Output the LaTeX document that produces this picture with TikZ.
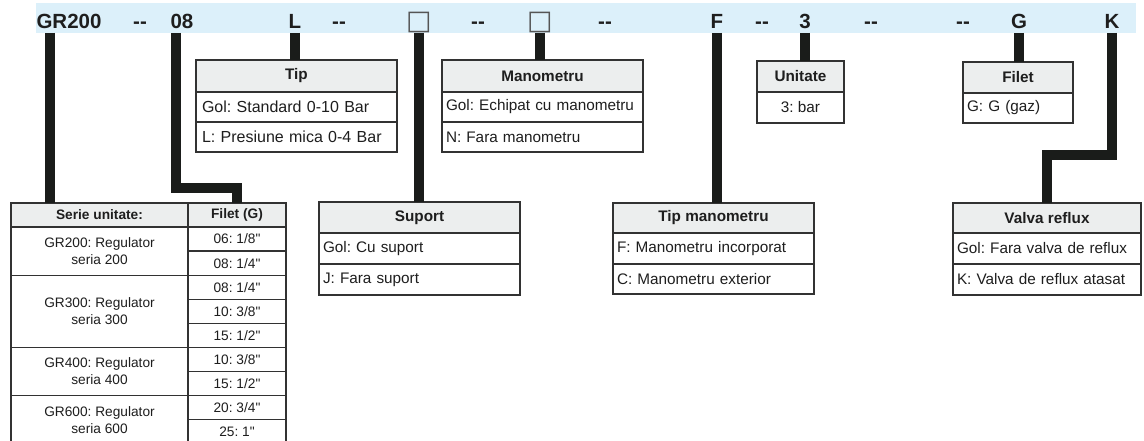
\documentclass[tikz,border=0pt]{standalone}
\usepackage{fontspec}
\setmainfont{Liberation Sans}[Ligatures=TeXOff]
\newfontfamily\symfont{DejaVu Sans}
\usepackage{tikz}
\usetikzlibrary{positioning}
\definecolor{barblue}{RGB}{220,240,250}
\definecolor{hdrgray}{RGB}{236,238,238}
\definecolor{linegray}{RGB}{50,50,50}
\definecolor{leadblack}{RGB}{26,28,26}
\definecolor{txt}{RGB}{30,30,30}
\definecolor{sqgray}{RGB}{85,85,85}
\frenchspacing

\begin{document}
\begin{tikzpicture}[x=1pt, y=-1pt,
    codechar/.style={anchor=base, inner sep=0, text=txt, font=\fontsize{20.5}{20}\selectfont\bfseries},
    sqchar/.style={anchor=base, inner sep=0, text=sqgray, font=\symfont\fontsize{27}{27}\selectfont},
    leadline/.style={draw=leadblack, line width=10pt, line join=miter},
    opthead/.style={rectangle, draw=linegray, line width=1.3pt, fill=hdrgray, anchor=north west, inner sep=0, outer sep=0, minimum height=31pt, text=txt, font=\fontsize{15.3}{16}\selectfont\bfseries},
    optrow/.style={rectangle, draw=linegray, line width=1.3pt, fill=white, inner xsep=4pt, inner ysep=0, outer sep=0, minimum height=30pt, align=left, text=txt, font=\fontsize{15.3}{16}\selectfont},
    shead/.style={opthead, minimum height=24pt, font=\fontsize{13.7}{17}\selectfont\bfseries},
    scell/.style={optrow, minimum height=24.1pt, inner xsep=0, align=center, font=\fontsize{13.7}{17}\selectfont}
]
\useasboundingbox (0,0) rectangle (1144,441);

% BARA DE COD
\node[fill=barblue, anchor=north west, minimum width=1100pt, minimum height=30pt, inner sep=0, outer sep=0] (bar) at (36,3) {};
\node[codechar] (tGR) at (69,29) {GR200};
\node[codechar] (tD1) at (140,29) {-{}-};
\node[codechar] (t08) at (182,29) {08};
\node[codechar] (tL) at (295,29) {L};
\node[codechar] (tD2) at (339,29) {-{}-};
\node[sqchar] (tS) at (419,30) {□};
\node[codechar] (tD3) at (478,29) {-{}-};
\node[sqchar] (tM) at (540,30) {□};
\node[codechar] (tD4) at (605,29) {-{}-};
\node[codechar] (tF) at (717,29) {F};
\node[codechar] (tD5) at (762,29) {-{}-};
\node[codechar] (t3) at (805,29) {3};
\node[codechar] (tD6) at (871,29) {-{}-};
\node[codechar] (tD7) at (963,29) {-{}-};
\node[codechar] (tG) at (1019,29) {G};
\node[codechar] (tK) at (1112,29) {K};
\coordinate (aGR) at (50,33);
\coordinate (a08) at (176,33);

% SERIE UNITATE / FILET (G)
\node[shead, minimum width=177pt] (serhd) at (11,203) {Serie unitate:};
\node[shead, minimum width=98pt, right=0pt of serhd] (fghd) {Filet (G)};
\node[scell, minimum width=177pt, minimum height=48.2pt, below=0pt of serhd] (s200) {GR200: Regulator\\seria 200};
\node[scell, minimum width=177pt, minimum height=72.3pt, below=0pt of s200] (s300) {GR300: Regulator\\seria 300};
\node[scell, minimum width=177pt, minimum height=48.2pt, below=0pt of s300] (s400) {GR400: Regulator\\seria 400};
\node[scell, minimum width=177pt, minimum height=48.2pt, below=0pt of s400] (s600) {GR600: Regulator\\seria 600};
\node[scell, minimum width=98pt, below=0pt of fghd] (f1) {06: 1/8"};
\node[scell, minimum width=98pt, below=0pt of f1] (f2) {08: 1/4"};
\node[scell, minimum width=98pt, below=0pt of f2] (f3) {08: 1/4"};
\node[scell, minimum width=98pt, below=0pt of f3] (f4) {10: 3/8"};
\node[scell, minimum width=98pt, below=0pt of f4] (f5) {15: 1/2"};
\node[scell, minimum width=98pt, below=0pt of f5] (f6) {10: 3/8"};
\node[scell, minimum width=98pt, below=0pt of f6] (f7) {15: 1/2"};
\node[scell, minimum width=98pt, below=0pt of f7] (f8) {20: 3/4"};
\node[scell, minimum width=98pt, below=0pt of f8] (f9) {25: 1"};

% TIP
\node[opthead, minimum width=201pt, minimum height=32pt] (tiphd) at (196,60) {Tip};
\node[optrow, text width=189pt, inner xsep=6pt, font=\fontsize{16}{16}\selectfont, below=0pt of tiphd] (tip1) {Gol: Standard 0-10 Bar};
\node[optrow, text width=189pt, inner xsep=6pt, font=\fontsize{16}{16}\selectfont, below=0pt of tip1] (tip2) {L: Presiune mica 0-4 Bar};

% SUPORT
\node[opthead, minimum width=201pt] (suphd) at (319,202) {Suport};
\node[optrow, text width=193pt, minimum height=31pt, below=0pt of suphd] (sup1) {Gol: Cu suport};
\node[optrow, text width=193pt, minimum height=31pt, below=0pt of sup1] (sup2) {J: Fara suport};

% MANOMETRU
\node[opthead, minimum width=201pt, minimum height=32pt] (manhd) at (442,60) {Manometru};
\node[optrow, text width=193pt, below=0pt of manhd] (man1) {Gol: Echipat cu manometru};
\node[optrow, text width=193pt, below=0pt of man1] (man2) {N: Fara manometru};

% TIP MANOMETRU
\node[opthead, minimum width=201pt, minimum height=30pt] (tmhd) at (613,203) {Tip manometru};
\node[optrow, text width=193pt, minimum height=31pt, below=0pt of tmhd] (tm1) {F: Manometru incorporat};
\node[optrow, text width=193pt, minimum height=30pt, below=0pt of tm1] (tm2) {C: Manometru exterior};

% UNITATE
\node[opthead, minimum width=87pt] (unihd) at (757,61) {Unitate};
\node[optrow, minimum width=87pt, minimum height=31pt, inner xsep=0, align=center, below=0pt of unihd] (uni1) {3: bar};

% FILET
\node[opthead, minimum width=110pt] (filhd) at (963,62) {Filet};
\node[optrow, text width=102pt, minimum height=30pt, below=0pt of filhd] (fil1) {G: G (gaz)};

% VALVA REFLUX
\node[opthead, minimum width=188pt, minimum height=30pt] (valhd) at (953,203) {Valva reflux};
\node[optrow, text width=180pt, minimum height=31pt, below=0pt of valhd] (val1) {Gol: Fara valva de reflux};
\node[optrow, text width=180pt, minimum height=31pt, below=0pt of val1] (val2) {K: Valva de reflux atasat};

% Legaturi
\draw[leadline] (aGR) -- (aGR |- serhd.north);
\draw[leadline] (a08) |- ([yshift=15pt]fghd.north) -- (fghd.north);
\draw[leadline] (tL |- bar.south) -- (tL |- tiphd.north);
\draw[leadline] (tS |- bar.south) -- (tS |- suphd.north);
\draw[leadline] (tM |- bar.south) -- (tM |- manhd.north);
\draw[leadline] (tF |- bar.south) -- (tF |- tmhd.north);
\draw[leadline] (t3 |- bar.south) -- (t3 |- unihd.north);
\draw[leadline] (tG |- bar.south) -- (tG |- filhd.north);
\draw[leadline] (tK |- bar.south) |- ([yshift=48pt]valhd.north) -- (valhd.north);

\end{tikzpicture}
\end{document}
